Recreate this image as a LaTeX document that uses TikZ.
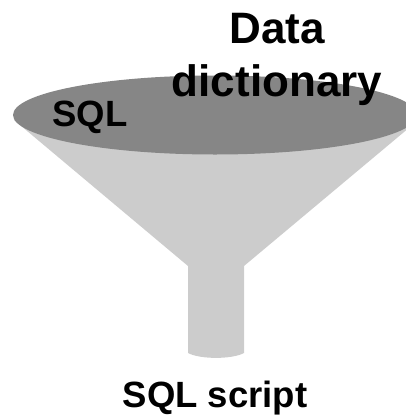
\documentclass[tikz,border=0pt]{standalone}
\usepackage{fontspec}
\setmainfont{Liberation Sans}
\tikzset{
  funnelbody/.style={fill=funnellight,draw=none},
  funnelmouth/.style={fill=funneldark,draw=none},
  smalllabel/.style={font=\fontsize{27.4pt}{32pt}\bfseries\selectfont,inner sep=0pt,anchor=base},
  biglabel/.style={font=\fontsize{33pt}{39.75pt}\bfseries\selectfont,inner sep=0pt,align=center}
}
\definecolor{funnellight}{HTML}{CCCCCC}
\definecolor{funneldark}{HTML}{868686}
\begin{document}
\begin{tikzpicture}[x=0.75pt,y=-0.75pt]
\useasboundingbox (0,0) rectangle (406,415);
\clip (0,0) rectangle (406,415);
\fill[funnelbody] (14,120) -- (188,266) -- (188,353)
  .. controls (200,359.5) and (232,359.5) .. (244,353)
  -- (244,266) -- (416,122) -- cycle;
\fill[funnelmouth] (215,115) ellipse [x radius=202, y radius=39.5];
\node[smalllabel] (sql) at (90,126) {SQL};
\node[biglabel] (dict) at (277,59) {Data\\dictionary};
\node[smalllabel] (script) at (215,407) {SQL script};
\end{tikzpicture}
\end{document}
